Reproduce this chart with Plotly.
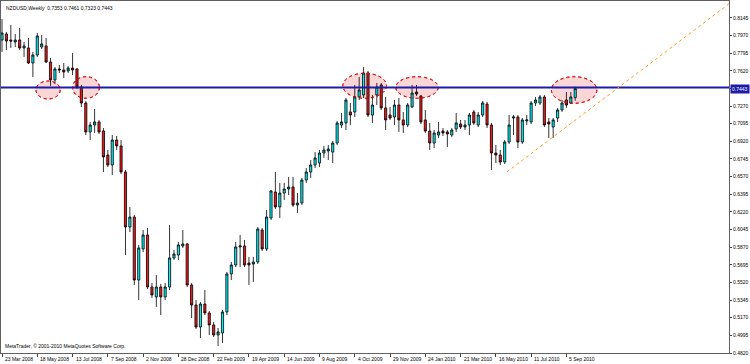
import plotly.graph_objects as go
import pandas as pd

# ---- data (NZDUSD weekly) ----
OPEN = [0.7925,0.7985,0.7925,0.7905,0.7925,0.7846,0.7846,0.7697,0.7776,0.7856,
        0.7866,0.7707,0.7528,0.7638,0.7628,0.7618,0.7647,0.7638,0.7459,0.7300,
        0.7013,0.7082,0.7112,0.7022,0.6784,0.6685,0.6933,0.6874,0.6616,0.6070,
        0.6169,0.5544,0.5852,0.5991,0.5475,0.5376,0.5475,0.5376,0.5475,0.5763,
        0.5792,0.5882,0.5902,0.5495,0.5296,0.5078,0.5306,0.5217,0.5098,0.4999,
        0.5019,0.5227,0.5604,0.5693,0.5872,0.5882,0.5713,0.5703,0.5723,0.6040,
        0.5852,0.6159,0.6417,0.6269,0.6407,0.6447,0.6467,0.6288,0.6308,0.6536,
        0.6616,0.6685,0.6705,0.6804,0.6824,0.6814,0.6903,0.7082,0.7102,0.7211,
        0.7211,0.7360,0.7380,0.7598,0.7181,0.7380,0.7479,0.7251,0.7181,0.7161,
        0.7280,0.7132,0.7082,0.7261,0.7409,0.7370,0.7132,0.7022,0.6903,0.6983,
        0.7022,0.7013,0.6983,0.7042,0.7092,0.7062,0.7082,0.7211,0.7082,0.7181,
        0.7290,0.7082,0.6804,0.6784,0.6715,0.6913,0.7151,0.7161,0.6913,0.7122,
        0.7112,0.7300,0.7300,0.7360,0.7112,0.7062,0.7151,0.7231,0.7330,0.7300,
        0.7353]
HIGH = [0.8134,0.8005,0.8074,0.7985,0.8044,0.7905,0.7945,0.7806,0.7995,0.7975,
        0.7945,0.7747,0.7657,0.7677,0.7697,0.7667,0.7796,0.7647,0.7479,0.7320,
        0.7112,0.7241,0.7132,0.7052,0.6834,0.6983,0.6973,0.6933,0.6636,0.6269,
        0.6189,0.5892,0.6040,0.6060,0.5515,0.5594,0.5505,0.5515,0.6090,0.5842,
        0.5921,0.6040,0.5911,0.5515,0.5346,0.5326,0.5445,0.5237,0.5128,0.5068,
        0.5247,0.5624,0.5723,0.5921,0.5991,0.5941,0.5773,0.5773,0.6070,0.6060,
        0.6239,0.6437,0.6616,0.6507,0.6507,0.6566,0.6566,0.6407,0.6556,0.6655,
        0.6735,0.6814,0.6834,0.6874,0.6884,0.6923,0.7122,0.7201,0.7350,0.7300,
        0.7479,0.7558,0.7657,0.7618,0.7380,0.7499,0.7499,0.7360,0.7261,0.7330,
        0.7350,0.7211,0.7300,0.7479,0.7479,0.7380,0.7231,0.7102,0.7032,0.7112,
        0.7052,0.7032,0.7052,0.7201,0.7132,0.7132,0.7201,0.7231,0.7211,0.7320,
        0.7310,0.7102,0.6884,0.6834,0.6933,0.7181,0.7181,0.7181,0.7151,0.7181,
        0.7320,0.7360,0.7380,0.7380,0.7151,0.7151,0.7251,0.7330,0.7409,0.7409,
        0.7461]
LOW = [0.7806,0.7826,0.7846,0.7856,0.7826,0.7757,0.7687,0.7558,0.7757,0.7836,
       0.7697,0.7469,0.7489,0.7598,0.7548,0.7598,0.7578,0.7439,0.7261,0.6983,
       0.6933,0.7003,0.6993,0.6616,0.6665,0.6586,0.6834,0.6596,0.5792,0.6021,
       0.5495,0.5346,0.5822,0.5455,0.5366,0.5277,0.5197,0.5346,0.5445,0.5743,
       0.5743,0.5862,0.5475,0.5167,0.5058,0.4969,0.5197,0.4999,0.4979,0.4890,
       0.4920,0.5197,0.5544,0.5673,0.5673,0.5673,0.5495,0.5525,0.5703,0.5832,
       0.5832,0.6140,0.6249,0.6159,0.6338,0.6388,0.6269,0.6209,0.6288,0.6507,
       0.6556,0.6655,0.6665,0.6755,0.6735,0.6705,0.6884,0.7052,0.7032,0.7082,
       0.7161,0.7330,0.7350,0.7161,0.7102,0.7280,0.7231,0.7032,0.7132,0.7082,
       0.7013,0.7003,0.7062,0.7251,0.7370,0.7092,0.7003,0.6834,0.6854,0.6953,
       0.6973,0.6864,0.6963,0.7013,0.7042,0.7032,0.6983,0.7082,0.7062,0.7161,
       0.7052,0.6636,0.6705,0.6685,0.6695,0.6894,0.6983,0.6854,0.6894,0.7082,
       0.7092,0.7270,0.7280,0.7062,0.6953,0.6953,0.7112,0.7211,0.7251,0.7290,
       0.7323]
CLOSE = [0.7995,0.7915,0.7915,0.7925,0.7846,0.7866,0.7697,0.7776,0.7965,0.7886,
         0.7707,0.7528,0.7638,0.7628,0.7608,0.7647,0.7628,0.7459,0.7300,0.7013,
         0.7082,0.7112,0.7013,0.6765,0.6685,0.6933,0.6874,0.6616,0.6070,0.6169,
         0.5544,0.5862,0.5991,0.5475,0.5396,0.5475,0.5376,0.5475,0.5763,0.5802,
         0.5892,0.5902,0.5495,0.5296,0.5078,0.5306,0.5217,0.5098,0.4999,0.5029,
         0.5227,0.5604,0.5693,0.5872,0.5882,0.5693,0.5693,0.5723,0.6050,0.5852,
         0.6169,0.6427,0.6269,0.6407,0.6447,0.6467,0.6288,0.6308,0.6536,0.6616,
         0.6685,0.6755,0.6804,0.6834,0.6844,0.6903,0.7102,0.7112,0.7330,0.7181,
         0.7360,0.7429,0.7598,0.7181,0.7280,0.7459,0.7251,0.7132,0.7151,0.7280,
         0.7132,0.7082,0.7280,0.7399,0.7389,0.7112,0.7022,0.6903,0.7003,0.7013,
         0.7003,0.6993,0.7032,0.7102,0.7062,0.7082,0.7181,0.7102,0.7181,0.7300,
         0.7082,0.6804,0.6784,0.6715,0.6913,0.7082,0.7161,0.6913,0.7132,0.7132,
         0.7300,0.7330,0.7360,0.7082,0.7092,0.7132,0.7231,0.7300,0.7280,0.7360,
         0.7443]

FIRST_WEEK = "2008-03-23"
DATE_TICK_POS = [0, 8, 16, 24, 32, 40, 48, 56, 64, 72, 80, 88, 96, 104, 112, 120, 128]
DATE_TICK_LABELS = ["23 Mar 2008", "18 May 2008", "13 Jul 2008", "7 Sep 2008", "2 Nov 2008",
                    "28 Dec 2008", "22 Feb 2009", "19 Apr 2009", "14 Jun 2009", "9 Aug 2009",
                    "4 Oct 2009", "29 Nov 2009", "24 Jan 2010", "21 Mar 2010", "16 May 2010",
                    "11 Jul 2010", "5 Sep 2010"]
PRICE_TICKS = [0.4820, 0.4995, 0.5170, 0.5345, 0.5520, 0.5695, 0.5870, 0.6045, 0.6220, 0.6395,
               0.6570, 0.6745, 0.6920, 0.7095, 0.7270, 0.7445, 0.7620, 0.7795, 0.7970, 0.8145]
PRICE_TICK_LABELS = ["%.4f" % v for v in PRICE_TICKS]

RESISTANCE = 0.7455
BID = 0.7443
TREND_START = (114.5, 0.6616)
TREND_END = (165.1, 0.8292)
# ellipses: (index from, index to, price low, price high)
ELLIPSES = [(7.7, 13.2, 0.7340, 0.7518),
            (16.0, 22.1, 0.7347, 0.7561),
            (77.3, 87.2, 0.7347, 0.7595),
            (89.3, 98.9, 0.7347, 0.7561),
            (124.6, 134.9, 0.7297, 0.7561)]

TITLE = "NZDUSD,Weekly\u00a0\u00a00.7353 0.7461 0.7323 0.7443"
FOOTER = "MetaTrader, © 2001-2010 MetaQuotes Software Corp."

weeks = pd.date_range(FIRST_WEEK, periods=len(OPEN), freq="7D")
idx = list(range(len(OPEN)))

FONT = "Liberation Sans, Arial, sans-serif"

fig = go.Figure()
fig.add_trace(go.Candlestick(
    x=idx, open=OPEN, high=HIGH, low=LOW, close=CLOSE,
    text=[w.strftime("%d %b %Y") for w in weeks],
    increasing=dict(line=dict(color="#000000", width=0.8), fillcolor="#00eef6"),
    decreasing=dict(line=dict(color="#000000", width=0.8), fillcolor="#f01a1a"),
    whiskerwidth=0, showlegend=False,
))

shapes = []
for x0, x1, y0, y1 in ELLIPSES:
    shapes.append(dict(type="circle", xref="x", yref="y", x0=x0, x1=x1, y0=y0, y1=y1,
                       fillcolor="rgba(248,200,200,0.75)", layer="below",
                       line=dict(color="#e01010", width=1, dash="dot")))
    shapes.append(dict(type="circle", xref="x", yref="y", x0=x0, x1=x1, y0=y0, y1=y1,
                       fillcolor="rgba(0,0,0,0)", layer="above",
                       line=dict(color="#e01010", width=1, dash="dot")))
shapes.append(dict(type="line", xref="paper", yref="y", x0=0, x1=1, y0=RESISTANCE, y1=RESISTANCE,
                   line=dict(color="#1c1ca8", width=2), layer="above"))
shapes.append(dict(type="line", xref="x", yref="y", x0=TREND_START[0], y0=TREND_START[1],
                   x1=TREND_END[0], y1=TREND_END[1],
                   line=dict(color="#ff9a1a", width=1, dash="dot"), layer="above"))

annotations = []
for pos, lab in zip(DATE_TICK_POS, DATE_TICK_LABELS):
    annotations.append(dict(x=pos, xref="x", y=0, yref="paper", text=lab, showarrow=False,
                            xanchor="left", yanchor="top", xshift=1, yshift=-1,
                            font=dict(family=FONT, size=5, color="#000000")))
annotations.append(dict(x=0, xref="paper", y=1, yref="paper", text=TITLE, showarrow=False,
                        xanchor="left", yanchor="top", xshift=3, yshift=-2,
                        font=dict(family=FONT, size=5, color="#000000")))
annotations.append(dict(x=0, xref="paper", y=0, yref="paper", text=FOOTER, showarrow=False,
                        xanchor="left", yanchor="bottom", xshift=2, yshift=2,
                        font=dict(family=FONT, size=5, color="#000000")))
annotations.append(dict(x=1, xref="paper", y=BID, yref="y", text="%.4f" % BID,
                        showarrow=False, xanchor="left", yanchor="middle", xshift=1,
                        bgcolor="#1c1ca8", borderpad=1,
                        font=dict(family=FONT, size=5, color="#ffffff")))

fig.update_layout(
    width=750, height=364,
    margin=dict(l=1, r=21, t=1, b=11, pad=0),
    paper_bgcolor="#ffffff", plot_bgcolor="#ffffff",
    shapes=shapes, annotations=annotations,
    hovermode=False,
    xaxis=dict(range=[-0.23, 164.87], rangeslider=dict(visible=False),
               showgrid=False, zeroline=False,
               showline=True, linecolor="#606060", linewidth=1, mirror=True,
               tickmode="array", tickvals=DATE_TICK_POS, showticklabels=False,
               ticks="outside", ticklen=3, tickcolor="#404040"),
    yaxis=dict(range=[0.4820, 0.8312], side="right", showgrid=False, zeroline=False,
               showline=True, linecolor="#606060", linewidth=1, mirror=True,
               tickmode="array", tickvals=PRICE_TICKS, ticktext=PRICE_TICK_LABELS,
               ticks="outside", ticklen=2, tickcolor="#404040",
               tickfont=dict(family=FONT, size=5, color="#000000")),
    showlegend=False,
)

fig.write_html(
    "out.html",
    config={"displayModeBar": False, "staticPlot": True},
    post_script="document.body.style.margin='0px';document.body.style.overflow='hidden';"
                "document.documentElement.style.overflow='hidden';",
)
